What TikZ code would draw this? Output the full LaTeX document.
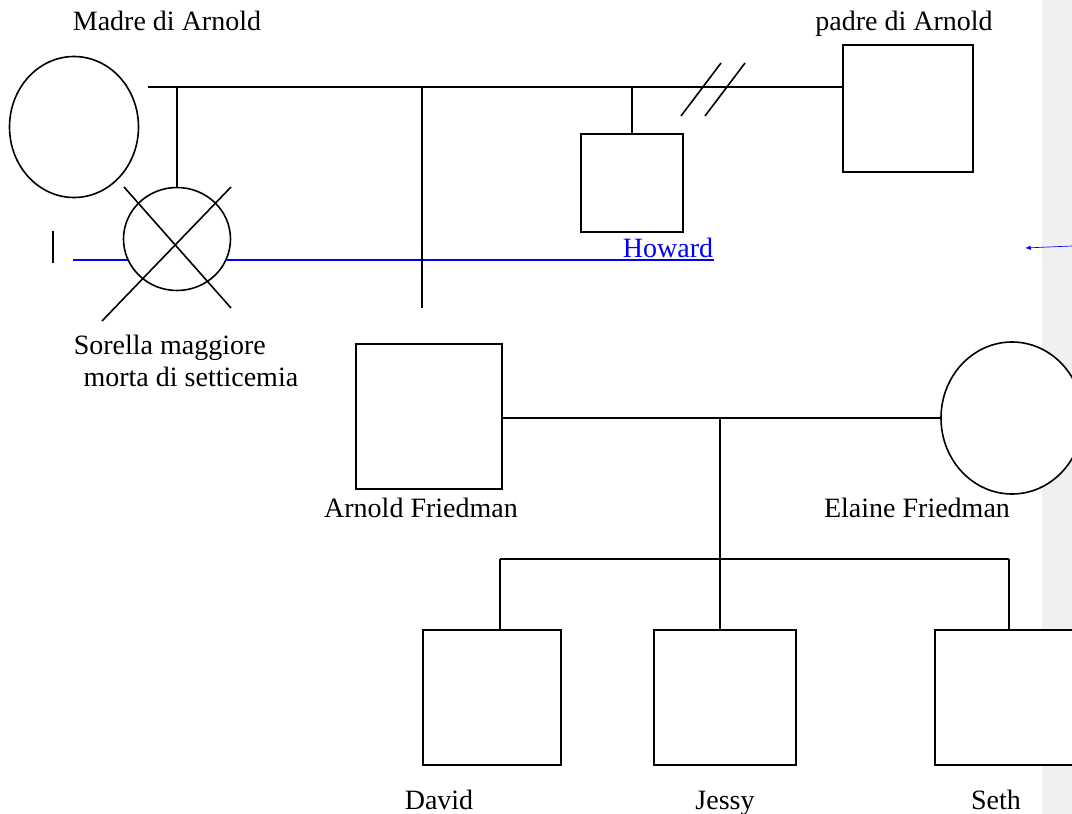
\documentclass[tikz,border=0pt]{standalone}
\usepackage{fontspec}
\setmainfont{Liberation Serif}
\usetikzlibrary{shapes, arrows, positioning, calc}
\definecolor{linkblue}{RGB}{0,0,255}
\definecolor{bandgray}{RGB}{240,240,240}
\tikzstyle{nametext} = [inner sep=0pt, anchor=base, font=\fontsize{21}{24}\selectfont]
\tikzstyle{male} = [draw, rectangle, inner sep=0pt, fill=white, anchor=north west]
\tikzstyle{female} = [draw, ellipse, inner sep=0pt, fill=white]

\begin{document}
\begin{tikzpicture}[x=0.75pt, y=-0.75pt, line width=1.2pt]
		\useasboundingbox (0,0) rectangle (1072,814);
		\clip (0,0) rectangle (1072,814);
		\fill[bandgray] (1042,0) rectangle (1072,814);

		\coordinate (mother)  at (74,   127);
		\coordinate (father)  at (842,  44);
		\coordinate (sister)  at (177,  239);
		\coordinate (howard)  at (580,  133);
		\coordinate (arnold)  at (355,  343);
		\coordinate (elaine)  at (1012, 418);
		\coordinate (david)   at (422,  629);
		\coordinate (jessy)   at (653,  629);
		\coordinate (seth)    at (934,  629);
		\coordinate (mar1)    at (148,  87);
		\coordinate (drop1)   at (422,  308);
		\coordinate (kids)    at (720,  559);
		\coordinate (barL)    at (500,  559);
		\coordinate (barR)    at (1009, 559);
		\coordinate (ulL)     at (73,   260);
		\coordinate (ulR)     at (714,  260);
		\coordinate (tick1)   at (53,   231);
		\coordinate (tick2)   at (53,   263);
		\coordinate (arrS)    at (1072, 246);
		\coordinate (arrE)    at (1025, 248);

		% blue link line of Howard, behind the sister
		\draw[linkblue, line width=1.5pt] (ulL) -- (ulR);
		\draw[line width=1.5pt] (tick1) -- (tick2);

		\node[female, minimum width=96.75pt, minimum height=105.75pt] (MAD) at (mother) {};
		\node[male, minimum width=97.5pt, minimum height=95.25pt] (PAD) at (father) {};
		\node[female, minimum width=80.25pt, minimum height=77.25pt] (SIS) at (sister) {};
		\node[male, minimum width=76.5pt, minimum height=73.5pt] (HOW) at (howard) {};
		\node[male, minimum width=109.5pt, minimum height=108.75pt] (ARN) at (arnold) {};
		\node[female, minimum width=106.5pt, minimum height=114pt] (ELA) at (elaine) {};
		\node[male, minimum width=103.5pt, minimum height=101.25pt] (DAV) at (david) {};
		\node[male, minimum width=106.5pt, minimum height=101.25pt] (JES) at (jessy) {};
		\node[male, minimum width=106.5pt, minimum height=101.25pt] (SET) at (seth) {};

		\node[nametext] (tMAD) at (167, 30) {Madre di Arnold};
		\node[nametext] (tPAD) at (904, 30) {padre di Arnold};
		\node[nametext, text=linkblue] (tHOW) at (668, 257) {Howard};
		\node[nametext, anchor=west, align=left] (tSIS) at (73, 361) {Sorella maggiore\\\hspace*{0.35em}morta di setticemia};
		\node[nametext] (tARN) at (421, 517) {Arnold Friedman};
		\node[nametext] (tELA) at (917, 517) {Elaine Friedman};
		\node[nametext] (tDAV) at (439, 809) {David};
		\node[nametext] (tJES) at (725, 809) {Jessy};
		\node[nametext] (tSET) at (996, 809) {Seth};

		\draw (mar1) -- (mar1 -| PAD.west);
		\draw (SIS.north) -- (SIS.north |- mar1);
		\draw (drop1) -- (drop1 |- mar1);
		\draw (HOW.north) -- (HOW.north |- mar1);
		\draw (681, 116) -- (721, 63);
		\draw (705, 116) -- (745, 63);
		\draw (124, 187) -- (231, 308);
		\draw (231, 187) -- (102, 321);

		\draw (ARN.east |- ELA.west) -- (ELA.west);
		\draw (kids |- ELA.west) -- (kids) -- (kids |- JES.north);
		\draw (barL) -- (barR);
		\draw (barL) -- (barL |- DAV.north);
		\draw (barR) -- (barR |- SET.north);

		\draw[linkblue, line width=0.5pt, -latex] (arrS) -- (arrE);
	\end{tikzpicture}
\end{document}
